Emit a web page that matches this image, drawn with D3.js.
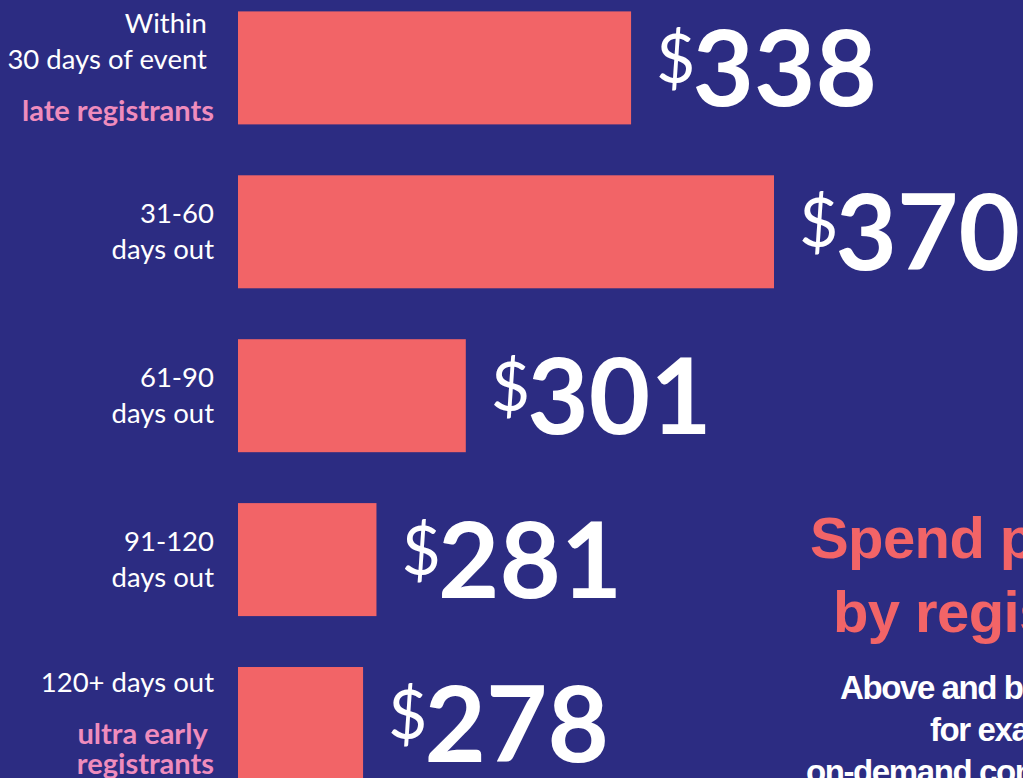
<!DOCTYPE html>
<html>
<head>
<meta charset="utf-8">
<script src="https://cdn.jsdelivr.net/npm/d3@7"></script>
<style>
  html, body { margin: 0; padding: 0; background: #2C2C82; overflow: hidden; }
  svg { display: block; }
  text { white-space: pre; }
</style>
</head>
<body>
<div id="chart"></div>
<script>
// ---- data ----
const categories = ["Within 30 days", "31-60 days", "61-90 days", "91-120 days", "120+ days"];
const values = [338, 370, 301, 281, 278];
const labelLines = [
  ["Within ", "30 days of event "],
  ["31-60", "days out"],
  ["61-90", "days out"],
  ["91-120", "days out"],
  ["120+ days out"]
];
const tagLines = [
  ["late registrants"],
  [],
  [],
  [],
  ["ultra early ", "registrants"]
];
const titleLines = ["Spend per attendee", "by registration date"];
const noteLines = ["Above and beyond registration,", "for example,", "on-demand content or merchandise"];

// ---- layout ----
const W = 1023, H = 778;
const BG = "#2C2C82", BAR = "#F26467", PINK = "#EF8CBD";

const svg = d3.select("#chart").append("svg")
  .attr("width", W).attr("height", H);

svg.append("rect").attr("width", W).attr("height", H).attr("fill", BG);

const x = d3.scaleLinear().domain([250, 370]).range([238, 774]);
const y = d3.scaleBand().domain(categories).range([11.4, 780]).paddingInner(0.3106).paddingOuter(0);

const rows = categories.map((c, i) => ({ cat: c, value: values[i], lines: labelLines[i], tags: tagLines[i] }));

// bars
svg.selectAll("rect.bar").data(rows).join("rect")
  .attr("class", "bar")
  .attr("x", x.range()[0])
  .attr("y", d => y(d.cat))
  .attr("width", d => x(d.value) - x.range()[0])
  .attr("height", y.bandwidth())
  .attr("fill", BAR);

// category labels
const labelX = 214;
rows.forEach(d => {
  const c = y(d.cat) + y.bandwidth() / 2;
  const items = [];
  let pos = 0;
  d.lines.forEach((t, i) => { if (i > 0) pos += 36; items.push({ t, pos, tag: false }); });
  d.tags.forEach((t, i) => { pos += (i === 0 ? 52 : 30); items.push({ t, pos, tag: true }); });
  const mid = (items[0].pos + items[items.length - 1].pos) / 2;
  const first = c + 9 - mid;
  items.forEach(it => {
    svg.append("text")
      .attr("x", labelX)
      .attr("y", first + it.pos)
      .attr("text-anchor", "end")
      .attr("font-family", "Lato, 'Noto Sans', sans-serif")
      .attr("font-size", it.tag ? 29 : 27.5)
      .attr("font-weight", it.tag ? 700 : 400)
      .attr("fill", it.tag ? PINK : "#FFFFFF")
      .text(it.t);
  });
});

// value labels
const vl = svg.selectAll("text.val").data(rows).join("text")
  .attr("class", "val")
  .attr("x", d => x(d.value) + 25)
  .attr("y", d => y(d.cat) + y.bandwidth() / 2 + 38)
  .attr("font-family", "Lato, 'Noto Sans', sans-serif")
  .attr("fill", "#FFFFFF");
vl.append("tspan")
  .attr("font-size", 68)
  .attr("font-weight", 400)
  .attr("dy", -23)
  .text("$");
vl.append("tspan")
  .attr("font-size", 106)
  .attr("font-weight", 700)
  .attr("dy", 23)
  .attr("dx", -3)
  .text(d => d.value);

// title block on the right
const titleX = [810, 833];
titleLines.forEach((t, i) => {
  svg.append("text")
    .attr("x", titleX[i])
    .attr("y", 558 + i * 73.5)
    .attr("font-family", "'Liberation Sans', Arial, sans-serif")
    .attr("font-size", 58)
    .attr("font-weight", 700)
    .attr("letter-spacing", -0.6)
    .attr("fill", BAR)
    .text(t);
});
const noteX = [840, 930, 806];
noteLines.forEach((t, i) => {
  svg.append("text")
    .attr("x", noteX[i])
    .attr("y", 699 + i * 42)
    .attr("font-family", "'Liberation Sans', Arial, sans-serif")
    .attr("font-size", 33)
    .attr("font-weight", 700)
    .attr("letter-spacing", -1.4)
    .attr("fill", "#FFFFFF")
    .text(t);
});
</script>
</body>
</html>
